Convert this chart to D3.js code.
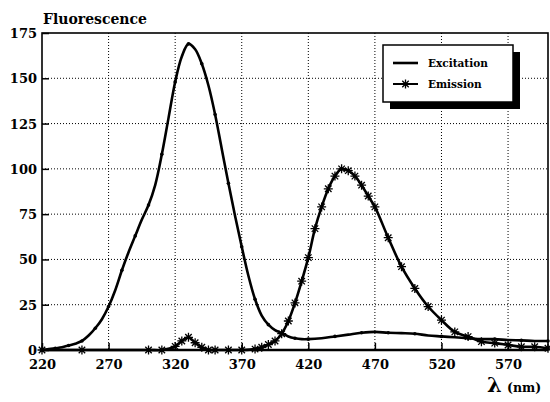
<!DOCTYPE html>
<html>
<head>
<meta charset="utf-8">
<script src="https://cdn.jsdelivr.net/npm/d3@7/dist/d3.min.js"></script>
<style>
  body { margin: 0; background: #fff; }
  svg text { font-family: "DejaVu Serif", "Liberation Serif", serif; font-weight: bold; fill: #000; }
</style>
</head>
<body>
<svg id="chart" width="550" height="402"></svg>
<script>
// ---- data ----
const excitationX = [220,225,230,235,240,245,250,255,260,265,270,275,280,285,290,295,300,305,310,315,320,325,330,335,340,345,350,355,360,365,370,375,380,385,390,395,400,405,410,415,420,430,440,450,460,470,480,490,500,510,520,530,540,550,560,570,580,590,600];
const excitationY = [0,0.5,1,1.5,2.5,3.5,5,8,12,17,24,33,44,54,63,72,80,91,108,128,148,162,169,166,158,146,130,111,92,74,57,41,28,19,14,11,9.4,7.5,6.5,6,6,6.5,7.5,8.5,9.5,10,9.5,9.3,9,8,7.5,7,6.5,6,6,5.5,5.3,5,5];
const emissionX = [220,250,300,310,320,325,330,335,340,345,350,360,370,380,385,390,395,400,405,410,415,420,425,430,435,440,445,450,455,460,465,470,480,490,500,510,520,530,540,550,560,570,580,590,600];
const emissionY = [0,0,0,0,2,5,7,4,1.5,0,0,0,0,0.5,1.5,3,5,9,16,26,38,51,67,79,89,96,100,99,96,91,85,79,62,46,34,24,16.5,10,7.4,4.6,3.8,2.8,1.8,1.8,1];
const xTicks = [220,270,320,370,420,470,520,570];
const yTicks = [0,25,50,75,100,125,150,175];
const seriesNames = ["Excitation","Emission"];

// ---- layout ----
const svg = d3.select("#chart");
const L = 42, R = 548, T = 33, B = 350;
const x = d3.scaleLinear().domain([220, 600]).range([L, R]);
const y = d3.scaleLinear().domain([0, 175]).range([B, T]);

// grid
const grid = svg.append("g");
grid.selectAll(".vg").data(xTicks.slice(1)).enter().append("line")
  .attr("x1", d => x(d)).attr("x2", d => x(d)).attr("y1", T).attr("y2", B)
  .attr("stroke", "#000").attr("stroke-width", 1).attr("stroke-dasharray", "1,2");
grid.selectAll(".hg").data(yTicks.slice(1, -1)).enter().append("line")
  .attr("x1", L).attr("x2", R).attr("y1", d => y(d)).attr("y2", d => y(d))
  .attr("stroke", "#000").attr("stroke-width", 1).attr("stroke-dasharray", "1,2");

// axes
const xAxis = d3.axisBottom(x).tickValues(xTicks).tickSize(-7).tickPadding(12).tickFormat(d3.format("d"));
const gx = svg.append("g").attr("transform", `translate(0,${B})`).call(xAxis);
gx.select(".domain").remove();
gx.selectAll("line").attr("stroke-width", 1.5);
gx.selectAll("text").style("font-size", "13px").attr("dy", "0.5em");

const yAxis = d3.axisLeft(y).tickValues(yTicks).tickSize(-7).tickPadding(5).tickFormat(d3.format("d"));
const gy = svg.append("g").attr("transform", `translate(${L},0)`).call(yAxis);
gy.select(".domain").remove();
gy.selectAll("line").attr("stroke-width", 1.5);
gy.selectAll("text").style("font-size", "13px").attr("dy", "0.35em");

// frame
svg.append("rect").attr("x", L).attr("y", T).attr("width", R - L).attr("height", B - T)
  .attr("fill", "none").attr("stroke", "#000").attr("stroke-width", 1.6);
svg.append("line").attr("x1", L).attr("x2", R).attr("y1", B).attr("y2", B)
  .attr("stroke", "#000").attr("stroke-width", 2.5);

// lines
const line = d3.line().x(d => x(d[0])).y(d => y(d[1])).curve(d3.curveCatmullRom.alpha(0.5));
const exData = excitationX.map((v, i) => [v, excitationY[i]]);
const emData = emissionX.map((v, i) => [v, emissionY[i]]);

svg.append("path").datum(exData).attr("d", line)
  .attr("fill", "none").attr("stroke", "#000").attr("stroke-width", 2.6);
svg.append("path").datum(emData).attr("d", line)
  .attr("fill", "none").attr("stroke", "#000").attr("stroke-width", 2.6);

svg.append("g").selectAll("circle").data(exData.filter((d, i) => i % 2 === 0)).enter().append("circle")
  .attr("cx", d => x(d[0])).attr("cy", d => y(d[1])).attr("r", 1.8).attr("fill", "#000");

function star(s) {
  const a = s * 0.72;
  return `M${-s},0L${s},0M0,${-s}L0,${s}M${-a},${-a}L${a},${a}M${-a},${a}L${a},${-a}`;
}
svg.append("g").selectAll("path").data(emData).enter().append("path")
  .attr("transform", d => `translate(${x(d[0])},${y(d[1])})`)
  .attr("d", star(4.5)).attr("stroke", "#000").attr("stroke-width", 1.3).attr("fill", "none");

// titles
svg.append("text").attr("x", 43).attr("y", 24).style("font-size", "14px").text("Fluorescence");
svg.append("text").attr("x", 487).attr("y", 392).style("font-size", "21px").text("λ");
svg.append("text").attr("x", 507).attr("y", 392).style("font-size", "12.5px").text("(nm)");

// legend
const lg = svg.append("g");
lg.append("rect").attr("x", 390).attr("y", 52).attr("width", 130).attr("height", 57).attr("fill", "#000");
lg.append("rect").attr("x", 383).attr("y", 45).attr("width", 130).attr("height", 57)
  .attr("fill", "#fff").attr("stroke", "#000").attr("stroke-width", 1.5);
lg.append("line").attr("x1", 393).attr("x2", 418).attr("y1", 63).attr("y2", 63)
  .attr("stroke", "#000").attr("stroke-width", 2.6);
lg.append("line").attr("x1", 393).attr("x2", 418).attr("y1", 84).attr("y2", 84)
  .attr("stroke", "#000").attr("stroke-width", 2);
lg.append("path").attr("transform", "translate(405.5,84)").attr("d", star(4.5))
  .attr("stroke", "#000").attr("stroke-width", 1.3);
lg.selectAll("text").data(seriesNames).enter().append("text")
  .attr("x", 428).attr("y", (d, i) => 67 + i * 21).style("font-size", "10.5px").text(d => d);
</script>
</body>
</html>
